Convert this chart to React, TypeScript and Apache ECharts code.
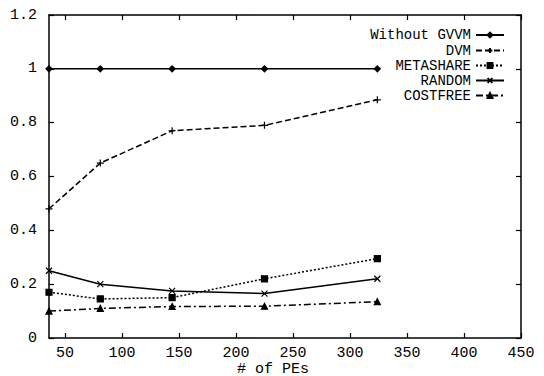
import React, { useEffect, useRef } from "react";
import * as echarts from "echarts";

const peCounts = [36, 81, 144, 225, 324];
const withoutGvvm = [1, 1, 1, 1, 1];
const dvm = [0.48, 0.65, 0.77, 0.79, 0.885];
const metashare = [0.17, 0.145, 0.15, 0.22, 0.295];
const random = [0.25, 0.2, 0.175, 0.165, 0.22];
const costfree = [0.1, 0.11, 0.117, 0.118, 0.135];
const xTicks = [50, 100, 150, 200, 250, 300, 350, 400, 450];
const seriesNames = ["Without GVVM", "DVM", "METASHARE", "RANDOM", "COSTFREE"];

const FONT = "Liberation Mono";

export default function App() {
  const ref = useRef<HTMLDivElement>(null);
  useEffect(() => {
    if (!ref.current) return;
    const chart = echarts.init(ref.current, null, { renderer: "svg" });
    const pair = (ys: number[]) => peCounts.map((x, i) => [x, ys[i]]);
    const plus = "path://M0,5L10,5M5,0L5,10";
    const cross = "path://M0,0L10,10M0,10L10,0";
    const mk = (name: string, ys: number[], type: any, symbol: string, size: number) => ({
      name,
      type: "line",
      data: pair(ys),
      symbol,
      symbolSize: size,
      showSymbol: true,
      lineStyle: { color: "#000", width: 1.5, type },
      itemStyle: { color: "#000", borderColor: "#000", borderWidth: 1.2 },
      emphasis: { disabled: true },
      z: 3,
    });
    const legendTops = [28, 43.5, 58.5, 73.5, 88.5];
    const tickStyle = { show: true, inside: true, length: 5, lineStyle: { color: "#000", width: 1.2 } };
    const lineAx = { show: true, onZero: false, lineStyle: { color: "#000", width: 1.5 } };
    chart.setOption({
      animation: false,
      grid: { left: 49, right: 23, top: 15, bottom: 38, containLabel: false },
      legend: seriesNames.map((n, i) => ({
        data: [n],
        orient: "vertical",
        align: "right",
        right: 39,
        top: legendTops[i],
        padding: 0,
        itemWidth: 28,
        itemHeight: 6,
        selectedMode: false,
        textStyle: { fontFamily: FONT, fontSize: 14, color: "#000", lineHeight: 12 },
      })),
      xAxis: [
        {
          type: "value",
          min: 36,
          max: 450,
          axisLine: lineAx,
          axisTick: { ...tickStyle, customValues: xTicks },
          axisLabel: {
            customValues: xTicks,
            margin: 9,
            color: "#000",
            fontFamily: FONT,
            fontSize: 15,
            lineHeight: 12,
          },
          splitLine: { show: false },
        },
        {
          type: "value",
          position: "top",
          min: 36,
          max: 450,
          axisLine: lineAx,
          axisTick: { ...tickStyle, customValues: xTicks },
          axisLabel: { show: false, customValues: xTicks },
          splitLine: { show: false },
        },
      ],
      yAxis: [
        {
          type: "value",
          min: 0,
          max: 1.2,
          interval: 0.2,
          axisLine: lineAx,
          axisTick: tickStyle,
          axisLabel: { margin: 12, color: "#000", fontFamily: FONT, fontSize: 15 },
          splitLine: { show: false },
        },
        {
          type: "value",
          position: "right",
          min: 0,
          max: 1.2,
          interval: 0.2,
          axisLine: lineAx,
          axisTick: tickStyle,
          axisLabel: { show: false },
          splitLine: { show: false },
        },
      ],
      graphic: [
        {
          type: "text",
          x: 273,
          y: 369,
          style: {
            text: "# of PEs",
            fontFamily: FONT,
            fontSize: 15,
            lineHeight: 12,
            fill: "#000",
            align: "center",
            verticalAlign: "middle",
          },
        },
      ],
      series: [
        mk(seriesNames[0], withoutGvvm, "solid", "diamond", 6),
        mk(seriesNames[1], dvm, [6, 3], plus, 7),
        mk(seriesNames[2], metashare, [2, 2], "rect", 6),
        mk(seriesNames[3], random, "solid", cross, 6),
        mk(seriesNames[4], costfree, [7, 3, 2, 3], "triangle", 6),
      ],
    });
    return () => chart.dispose();
  }, []);
  return <div ref={ref} style={{ width: 544, height: 376, position: "absolute", left: 0, top: 0 }} />;
}
